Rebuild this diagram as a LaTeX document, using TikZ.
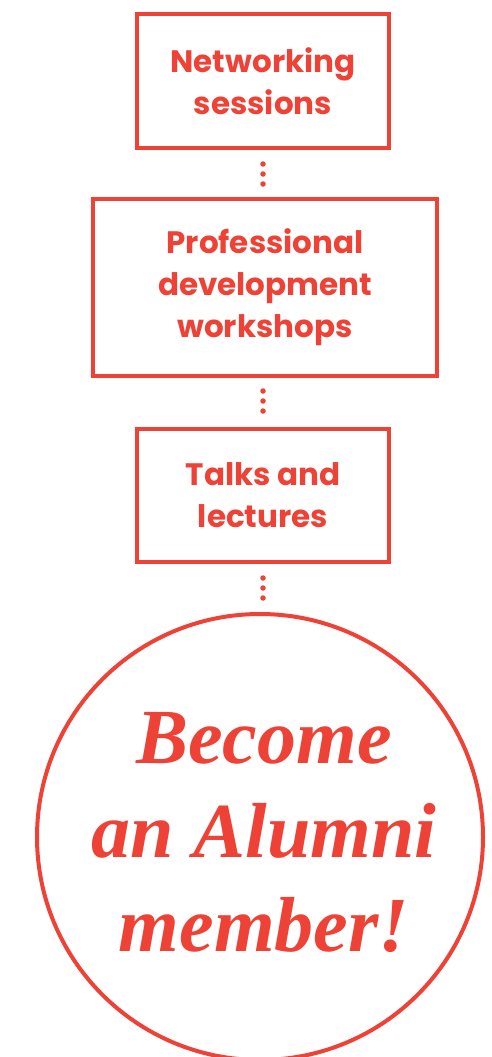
\documentclass[tikz,border=0pt]{standalone}
\usepackage{fontspec}
\newfontfamily\boxfont{Poppins}
\newfontfamily\circfont{Liberation Serif}
\definecolor{brand}{RGB}{238,66,54}
\begin{document}
\begin{tikzpicture}[x=1pt,y=1pt,
  stepbox/.style={draw=brand, line width=4pt, text=brand, align=center, inner sep=0pt,
    font=\boxfont\bfseries\fontsize{31}{42}\selectfont},
  dotmark/.style={circle, fill=brand, minimum size=5.5pt, inner sep=0pt, outer sep=0pt},
  dotlink/.style={draw=none},
  goal/.style={circle, draw=brand, line width=4pt, minimum size=446pt, inner sep=0pt},
  goaltext/.style={text=brand, align=center, inner sep=0pt,
    font=\circfont\bfseries\itshape\fontsize{78}{94}\selectfont}]
\useasboundingbox (0,0) rectangle (492,-1057);
\clip (0,0) rectangle (492,-1057);
\node[stepbox, minimum width=252pt, minimum height=134pt] (n1) at (263,-81) {Networking\\sessions};
\node[stepbox, minimum width=344pt, minimum height=177pt] (n2) at (265,-287.5) {Professional\\development\\workshops};
\node[stepbox, minimum width=252pt, minimum height=133pt] (n3) at (263,-495.5) {Talks and\\lectures};
\node[goal] (c) at (260,-837) {};
\node[goaltext] (ct) at (264,-833) {Become\\an Alumni\\member!};
\path[dotlink] ([yshift=-14pt]n1.south) -- ([yshift=13pt]n1.south |- n2.north)
  node[dotmark,pos=0]{} node[dotmark,pos=0.5]{} node[dotmark,pos=1]{};
\path[dotlink] ([yshift=-13pt]n2.south -| n1.south) -- ([yshift=16pt]n3.north)
  node[dotmark,pos=0]{} node[dotmark,pos=0.5]{} node[dotmark,pos=1]{};
\path[dotlink] ([yshift=-14pt]n3.south) -- ([yshift=14pt]n3.south |- c.north)
  node[dotmark,pos=0]{} node[dotmark,pos=0.5]{} node[dotmark,pos=1]{};
\end{tikzpicture}
\end{document}
